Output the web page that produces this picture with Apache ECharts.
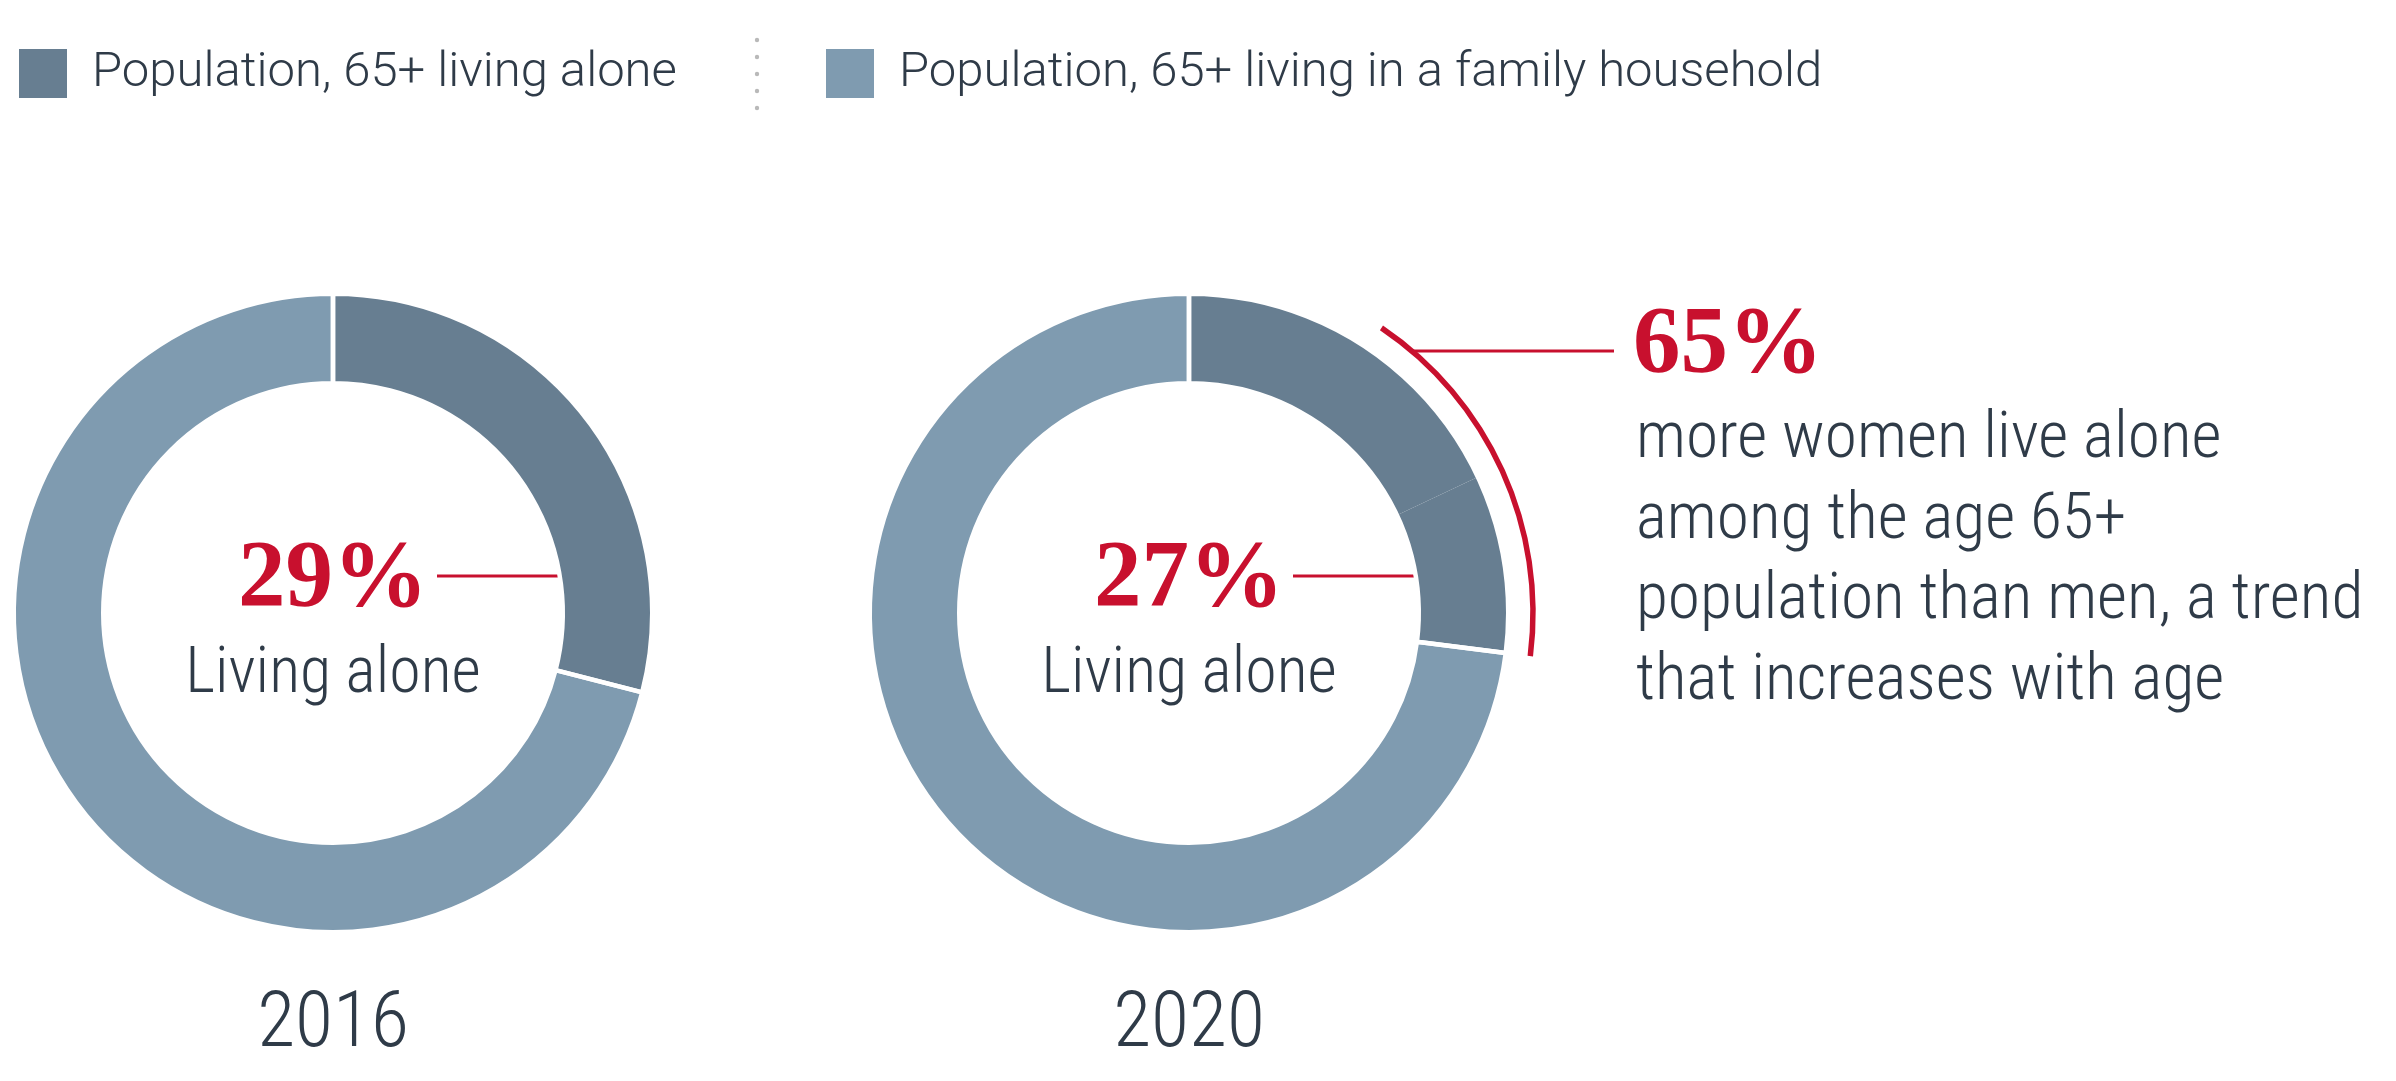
<!DOCTYPE html>
<html>
<head>
<meta charset="utf-8">
<title>Population 65+ living alone</title>
<script src="https://cdn.jsdelivr.net/npm/echarts@6/dist/echarts.min.js"></script>
<style>
  html, body { margin: 0; padding: 0; background: #ffffff; }
  #chart { width: 2396px; height: 1081px; }
</style>
</head>
<body>
<div id="chart"></div>
<script>
// ---- data ----
const years = ['2016', '2020'];
const aloneShare = [29, 27];          // % of the 65+ population living alone
const familyShare = [71, 73];         // % living in a family household
const alone2020Pieces = [18, 9];      // the 2020 "alone" slice is drawn as two adjoining pieces
const womenMorePct = 65;              // % more women than men living alone
const legendNames = ['Population, 65+ living alone', 'Population, 65+ living in a family household'];
const centerCaption = 'Living alone';
const noteLines = [
  'more women live alone',
  'among the age 65+',
  'population than men, a trend',
  'that increases with age'
];

// ---- styling / layout ----
const DARK = '#677e91';
const LIGHT = '#7f9bb0';
const RED = '#c8102e';
const INK = '#2f3b48';
const SANS = "'Liberation Sans Narrow', 'Roboto Condensed', Roboto, sans-serif";
const SERIF = "'Liberation Serif', 'DejaVu Serif', serif";
const centers = [[333, 613], [1189, 613]];
const R_OUT = 317, R_IN = 232, GAP = 4.5;
const ARC_R = 344, ARC_W = 5.5;

const chart = echarts.init(document.getElementById('chart'), null, { renderer: 'canvas' });

const series = [];
years.forEach((yr, i) => {
  const aloneItems = (i === 1 ? alone2020Pieces : [aloneShare[i]]).map(v => ({
    name: legendNames[0], value: v, itemStyle: { color: DARK }
  }));
  // filled ring
  series.push({
    type: 'pie', name: yr, center: centers[i],
    radius: [R_IN - GAP / 2, R_OUT + GAP / 2],
    startAngle: 90, clockwise: true, silent: true,
    label: { show: false }, labelLine: { show: false },
    data: aloneItems.concat([{ name: legendNames[1], value: familyShare[i], itemStyle: { color: LIGHT } }])
  });
  // white separators between the two shares
  series.push({
    type: 'pie', name: yr + ' separators', center: centers[i],
    radius: [R_IN - GAP / 2, R_OUT + GAP / 2],
    startAngle: 90, clockwise: true, silent: true,
    label: { show: false }, labelLine: { show: false },
    itemStyle: { color: 'rgba(0,0,0,0)', borderColor: '#ffffff', borderWidth: GAP },
    data: [
      { name: 'alone', value: aloneShare[i] },
      { name: 'family', value: familyShare[i] }
    ]
  });
});

// red arc: the women's portion of the 2020 living-alone slice
const arcSpan = aloneShare[1] * womenMorePct / 100;
series.push({
  type: 'pie', name: 'women arc', center: centers[1],
  radius: [ARC_R - ARC_W / 2, ARC_R + ARC_W / 2],
  startAngle: 90, clockwise: true, silent: true,
  label: { show: false }, labelLine: { show: false },
  data: [
    { name: 'lead', value: aloneShare[1] - arcSpan, itemStyle: { color: 'rgba(0,0,0,0)' } },
    { name: 'women', value: arcSpan, itemStyle: { color: RED } },
    { name: 'rest', value: familyShare[1], itemStyle: { color: 'rgba(0,0,0,0)' } }
  ]
});

// annotations and captions
const graphic = [];
// dotted divider between legend entries
for (let k = 0; k < 5; k++) {
  graphic.push({ type: 'circle', shape: { cx: 757, cy: 40 + k * 17, r: 2.2 }, style: { fill: '#b9b9b9' }, silent: true });
}
years.forEach((yr, i) => {
  const [cx, cy] = centers[i];
  graphic.push({
    type: 'text', x: cx, y: cy - 32, silent: true,
    style: { text: aloneShare[i] + '%', fill: RED, fontFamily: SERIF, fontWeight: 'bold', fontSize: 95, align: 'center', verticalAlign: 'middle' }
  });
  graphic.push({
    type: 'text', x: cx, y: cy + 63, silent: true,
    style: { text: centerCaption, fill: INK, fontFamily: SANS, fontWeight: 300, fontSize: 64, align: 'center', verticalAlign: 'middle' }
  });
  graphic.push({
    type: 'text', x: cx, y: cy + 413, silent: true,
    style: { text: yr, fill: INK, fontFamily: SANS, fontWeight: 300, fontSize: 78, align: 'center', verticalAlign: 'middle' }
  });
  // pointer into the ring
  graphic.push({ type: 'line', silent: true, shape: { x1: cx + 104, y1: cy - 37, x2: cx + R_IN, y2: cy - 37 }, style: { stroke: RED, lineWidth: 3 } });
  graphic.push({ type: 'line', silent: true, shape: { x1: cx + R_IN, y1: cy - 37, x2: cx + R_IN + 42, y2: cy - 37 }, style: { stroke: '#ffffff', lineWidth: 3 } });
});

// leader from the arc to the callout
const [c2x, c2y] = centers[1];
const leadDy = -262;
const leadX = c2x + Math.sqrt(ARC_R * ARC_R - leadDy * leadDy);
graphic.push({ type: 'line', silent: true, shape: { x1: leadX, y1: c2y + leadDy, x2: 1614, y2: c2y + leadDy }, style: { stroke: RED, lineWidth: 3 } });
graphic.push({
  type: 'text', x: 1633, y: 347, silent: true,
  style: { text: womenMorePct + '%', fill: RED, fontFamily: SERIF, fontWeight: 'bold', fontSize: 95, align: 'left', verticalAlign: 'middle' }
});
noteLines.forEach((line, k) => {
  graphic.push({
    type: 'text', x: 1636, y: 441 + k * 80.5, silent: true,
    style: { text: line, fill: INK, fontFamily: SANS, fontWeight: 300, fontSize: 65.5, align: 'left', verticalAlign: 'middle' }
  });
});

const legendBase = {
  top: 49, itemWidth: 48, itemHeight: 49, icon: 'rect', selectedMode: false, padding: 0,
  textStyle: { fontFamily: 'Roboto, sans-serif', fontWeight: 300, fontSize: 49, color: INK, padding: [7, 0, 0, 20] }
};

chart.setOption({
  animation: false,
  backgroundColor: '#ffffff',
  legend: [
    Object.assign({}, legendBase, { left: 19, data: [legendNames[0]] }),
    Object.assign({}, legendBase, { left: 826, data: [legendNames[1]] })
  ],
  series: series,
  graphic: graphic
});
</script>
</body>
</html>
